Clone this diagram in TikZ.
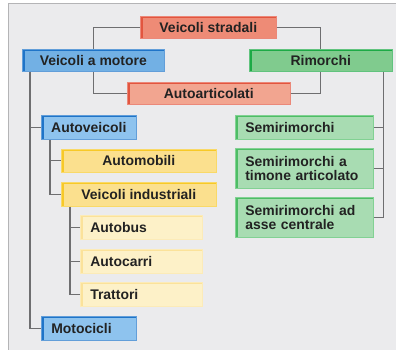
\documentclass[tikz,border=0pt]{standalone}
\usepackage{fontspec}
\setmainfont{Liberation Sans}
\definecolor{redD}{HTML}{E2553F}
\definecolor{redF}{HTML}{EE8B76}
\definecolor{redL}{HTML}{F2A590}
\definecolor{blueD}{HTML}{1F74C8}
\definecolor{blueF}{HTML}{72B0E4}
\definecolor{blueL}{HTML}{8EC3EE}
\definecolor{greenD}{HTML}{1DAA46}
\definecolor{greenF}{HTML}{80CB8E}
\definecolor{greenM}{HTML}{4DBD65}
\definecolor{greenL}{HTML}{A8DCB2}
\definecolor{yelD}{HTML}{F7C928}
\definecolor{yelF}{HTML}{FBE08E}
\definecolor{paleD}{HTML}{FBE29A}
\definecolor{paleF}{HTML}{FDF1C8}
\definecolor{bg}{HTML}{EBEBED}
\definecolor{frame}{HTML}{B4B4B6}
\definecolor{conn}{HTML}{6E6E70}
\definecolor{txt}{HTML}{222222}
\begin{document}
\begin{tikzpicture}[x=1bp,y=-1bp,
  box/.style 2 args={fill=#1, draw=#2!70!white, line width=0.6bp, inner sep=0pt,
    anchor=north west, text=txt, font=\fontsize{14}{14.5}\selectfont\bfseries,
    path picture={
      \draw[#2, line width=4bp] (path picture bounding box.north west) -- (path picture bounding box.north east);
      \draw[#2, line width=5.5bp] (path picture bounding box.north west) -- (path picture bounding box.south west);
    }},
  cbox/.style={minimum width=#1, align=center},
  lbox/.style={text width=#1-20bp, inner xsep=10bp, align=left},
  conn/.style={draw=conn, line width=1.2bp}]
\useasboundingbox (0,0) rectangle (396,350);
\clip (0,0) rectangle (396,350);
\fill[white] (0,0) rectangle (396,350);
\draw[fill=bg, draw=frame, line width=1.5bp] (8.5,3.5) rectangle (420,380);

% nodes
\node[box={redF}{redD}, cbox=136bp, minimum height=22bp] (vs) at (140,16) {Veicoli stradali};
\node[box={blueF}{blueD}, cbox=142bp, minimum height=22bp] (vm) at (22,49) {Veicoli a motore};
\node[box={greenF}{greenD}, cbox=143bp, minimum height=22bp] (ri) at (249,49) {Rimorchi};
\node[box={redL}{redD}, cbox=163bp, minimum height=22bp] (aa) at (127,82) {Autoarticolati};
\node[box={blueL}{blueD}, cbox=95bp, minimum height=24bp] (av) at (41,115) {Autoveicoli};
\node[box={yelF}{yelD}, cbox=155bp, minimum height=23bp] (am) at (61,149) {Automobili};
\node[box={yelF}{yelD}, cbox=155bp, minimum height=24bp] (vi) at (61,182) {Veicoli industriali};
\node[box={paleF}{paleD}, lbox=122bp, minimum height=24bp] (ab) at (80,215) {Autobus};
\node[box={paleF}{paleD}, lbox=122bp, minimum height=24bp] (ac) at (80,249) {Autocarri};
\node[box={paleF}{paleD}, lbox=122bp, minimum height=24bp] (tr) at (80,282) {Trattori};
\node[box={blueL}{blueD}, lbox=95bp, minimum height=24bp] (mo) at (41,316) {Motocicli};
\node[box={greenL}{greenM}, lbox=138bp, minimum height=24bp] (sr) at (235,115) {Semirimorchi};
\node[box={greenL}{greenM}, lbox=138bp, minimum height=40bp] (st) at (235,148) {Semirimorchi a\\timone articolato};
\node[box={greenL}{greenM}, lbox=138bp, minimum height=40bp] (sa) at (235,197) {Semirimorchi ad\\asse centrale};

% connector anchors
\coordinate (t1) at ([xshift=8bp]vm.south west);
\coordinate (t2) at ([xshift=9bp]av.south west);
\coordinate (t3) at ([xshift=9bp]vi.south west);
\coordinate (t4) at ([xshift=-9bp]ri.south east);

\draw[conn] (vs.west) -| (vm.north);
\draw[conn] (vs.east) -| (ri.north);
\draw[conn] (aa.west) -| (vm.south);
\draw[conn] (aa.east) -| (ri.south);
\draw[conn] (t1) |- (mo.west);
\draw[conn] (t1 |- av.west) -- (av.west);
\draw[conn] (t2) |- (vi.west);
\draw[conn] (t2 |- am.west) -- (am.west);
\draw[conn] (t3) |- (tr.west);
\draw[conn] (t3 |- ab.west) -- (ab.west);
\draw[conn] (t3 |- ac.west) -- (ac.west);
\draw[conn] (t4) |- (sa.east);
\draw[conn] (t4 |- sr.east) -- (sr.east);
\draw[conn] (t4 |- st.east) -- (st.east);
\end{tikzpicture}
\end{document}
